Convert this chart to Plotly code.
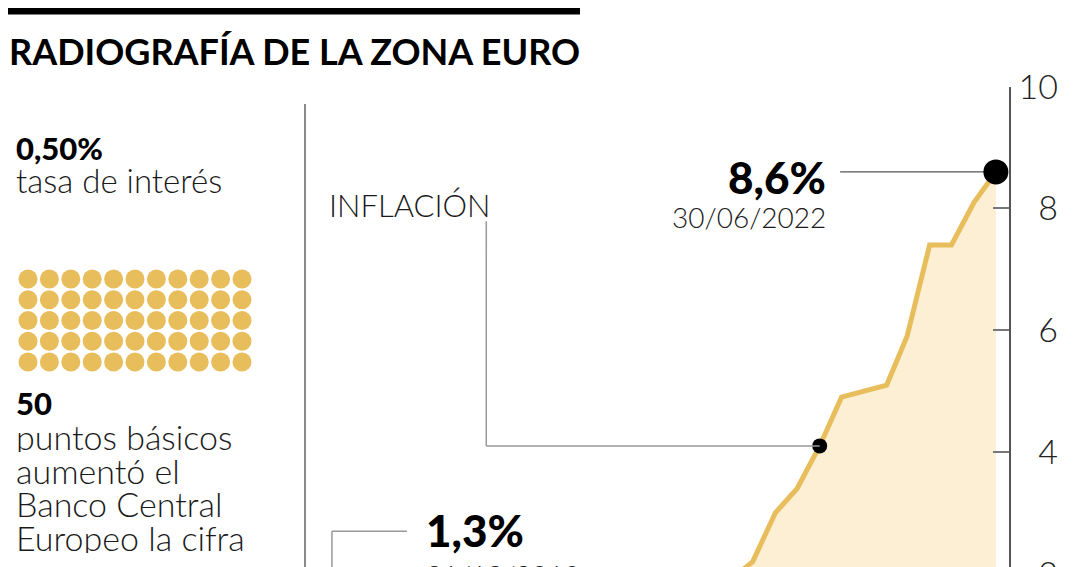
import numpy as np
import plotly.graph_objects as go

# Inflación zona euro (tasa anual, %), fin de mes
months = [
    "2019-12-31", "2020-01-31", "2020-02-29", "2020-03-31", "2020-04-30", "2020-05-31",
    "2020-06-30", "2020-07-31", "2020-08-31", "2020-09-30", "2020-10-31", "2020-11-30",
    "2020-12-31", "2021-01-31", "2021-02-28", "2021-03-31", "2021-04-30", "2021-05-31",
    "2021-06-30", "2021-07-31", "2021-08-31", "2021-09-30", "2021-10-31", "2021-11-30",
    "2021-12-31", "2022-01-31", "2022-02-28", "2022-03-31", "2022-04-30", "2022-05-31",
    "2022-06-30",
]
inflation = [
    1.3, 1.4, 1.2, 0.7, 0.3, 0.1,
    0.3, 0.4, -0.2, -0.3, -0.3, -0.3,
    -0.3, 0.9, 0.9, 1.3, 1.6, 2.0,
    1.9, 2.2, 3.0, 3.4, 4.1, 4.9,
    5.0, 5.1, 5.9, 7.4, 7.4, 8.1,
    8.6,
]
highlight_dates = ["2021-10-31", "2022-06-30"]
highlight_values = [4.1, 8.6]
y_ticks = [2, 4, 6, 8, 10]

dot_cols = 11
dot_rows = 5

W, H = 1080, 567
OFF = 8  # the page body adds an 8px margin around the figure
GOLD = "#e8bd5b"
CREAM = "#fdefd4"
LIGHT = "Lato"


def px(x):
    return (x - OFF) / W


def py(y):
    return 1 - (y - OFF) / H


fig = go.Figure()

fig.add_trace(go.Scatter(
    x=months, y=inflation, mode="lines",
    line=dict(color=GOLD, width=5),
    fill="tozeroy", fillcolor=CREAM,
    hoverinfo="skip", showlegend=False,
))
fig.add_trace(go.Scatter(
    x=highlight_dates, y=highlight_values, mode="markers",
    marker=dict(color="#000000", size=[15, 25], opacity=1, line=dict(width=0)),
    cliponaxis=False, hoverinfo="skip", showlegend=False,
))

# grid of dots (left panel)
gx, gy = np.meshgrid(np.arange(dot_cols), np.arange(dot_rows))
fig.add_trace(go.Scatter(
    x=gx.ravel(), y=gy.ravel(), mode="markers",
    marker=dict(color=GOLD, size=19, line=dict(width=0)),
    xaxis="x2", yaxis="y2", hoverinfo="skip", showlegend=False,
))

fig.update_layout(
    width=W, height=H,
    margin=dict(l=0, r=0, t=0, b=0),
    paper_bgcolor="white", plot_bgcolor="white",
    font=dict(family=LIGHT, color="#1a1a1a"),
    xaxis=dict(
        domain=[px(305), px(1009)], range=["2019-11-24", "2022-07-18"],
        visible=False, fixedrange=True,
    ),
    yaxis=dict(
        domain=[0, py(86.7)], range=[1.98, 10], side="right",
        showline=True, linecolor="#555", linewidth=1.5,
        showgrid=False, zeroline=False,
        ticks="inside", ticklen=16, tickcolor="#777", tickwidth=1.5,
        tickvals=y_ticks,
        ticktext=[("\u2007" + str(t)) if t < 10 else str(t) for t in y_ticks],
        tickfont=dict(family=LIGHT, size=34, color="#222", weight=300),
        ticklabelstandoff=1, ticklabeloverflow="allow", automargin=False,
    ),
    xaxis2=dict(domain=[px(17.3), px(252.7)], range=[-0.5, dot_cols - 0.5],
                visible=False, anchor="y2"),
    yaxis2=dict(domain=[py(372.4), py(268.6)], range=[dot_rows - 0.5, -0.5],
                visible=False, anchor="x2"),
)

shapes = [
    # top bar
    dict(type="rect", xref="paper", yref="paper", x0=px(8), x1=px(580),
         y0=py(14.5), y1=py(7.5), fillcolor="black", line=dict(width=0)),
    # separator
    dict(type="line", xref="paper", yref="paper", x0=px(305), x1=px(305),
         y0=py(104), y1=0, line=dict(color="#8a8a8a", width=2)),
    # INFLACIÓN leader
    dict(type="line", xref="x", yref="y", x0="2020-07-30", x1="2020-07-30",
         y0=4.1, y1=7.79, line=dict(color="#999", width=1.5)),
    dict(type="line", xref="x", yref="y", x0="2020-07-30", x1="2021-10-31",
         y0=4.1, y1=4.1, line=dict(color="#999", width=1.5)),
    # 8,6% leader
    dict(type="line", xref="x", yref="y", x0="2021-11-28", x1="2022-06-30",
         y0=8.6, y1=8.6, line=dict(color="#555", width=1.2), layer="below"),
    # 1,3% leader
    dict(type="line", xref="x", yref="y", x0="2019-12-31", x1="2019-12-31",
         y0=1.3, y1=2.70, line=dict(color="#999", width=1.5)),
    dict(type="line", xref="x", yref="y", x0="2019-12-31", x1="2020-04-12",
         y0=2.70, y1=2.70, line=dict(color="#999", width=1.5)),
]
fig.update_layout(shapes=shapes)


def note(text, x, y, size, weight=300, anchor="left", color="#1a1a1a", height=None, pad=1):
    fig.add_annotation(
        text=text, xref="paper", yref="paper", x=px(x), y=py(y),
        xanchor=anchor, yanchor="middle", showarrow=False, height=height,
        borderpad=pad,
        font=dict(family=LIGHT, size=size, weight=weight, color=color),
    )


note("RADIOGRAFÍA DE LA ZONA EURO", 8, 51, 36, weight=700, color="black", pad=0)
note("0,50%", 14, 148, 31, weight=900, color="black")
note("tasa de interés", 14, 180, 33)
note("50", 14, 403, 31, weight=900, color="black")
for i, line in enumerate(["puntos básicos", "aumentó el", "Banco Central", "Europeo la cifra"]):
    note(line, 14, 436 + i * 33.7, 34, height=32)
note("INFLACIÓN", 327, 205, 31)
note("8,6%", 828, 177, 44, weight=900, anchor="right", color="black")
note("30/06/2022", 828, 217, 28, anchor="right")
note("1,3%", 424, 530, 44, weight=900, color="black")
note("31/12/2019", 424, 575, 28)

fig.write_html("out.html")
